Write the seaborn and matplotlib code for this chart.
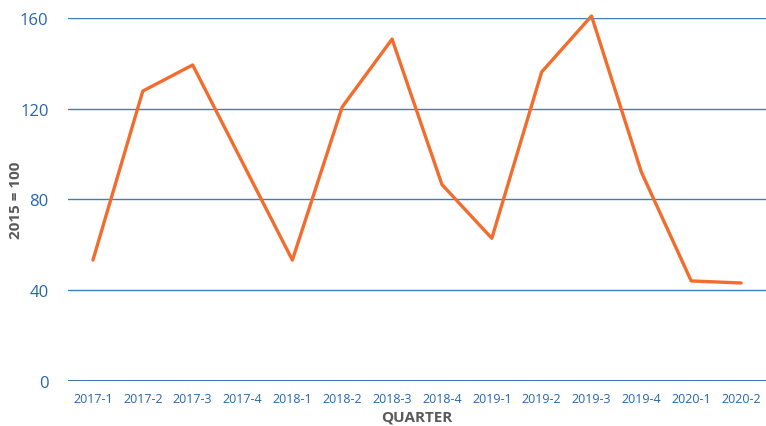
import seaborn as sns
import pandas as pd
import matplotlib.pyplot as plt

quarters = ["2017-1", "2017-2", "2017-3", "2017-4", "2018-1", "2018-2", "2018-3",
            "2018-4", "2019-1", "2019-2", "2019-3", "2019-4", "2020-1", "2020-2"]
index_values = [53.3, 127.8, 139.3, 96.3, 53.3, 120.8, 150.7,
                86.6, 62.9, 136.2, 160.9, 92.1, 44.1, 43.2]
yticks = [0, 40, 80, 120, 160]

df = pd.DataFrame({"quarter": quarters, "value": index_values})

sns.set_style("white")
plt.rcParams['font.family'] = ['Open Sans', 'DejaVu Sans']

blue = "#2466b0"
grid_blue = "#3c7dc4"
orange = "#f26d2d"
gray = "#595959"

fig = plt.figure(figsize=(7.66, 4.27), dpi=100)
ax = fig.add_axes([0.0888, 0.1054, 0.9112, 0.8501])

for y in yticks[1:]:
    ax.axhline(y, color=grid_blue, lw=1.0, zorder=1)
ax.axhline(0, color=blue, lw=1.3, zorder=1)

sns.lineplot(data=df, x="quarter", y="value", color=orange, lw=2.4,
             sort=False, ax=ax, zorder=3, clip_on=False)

ax.set_xlim(-0.5, len(quarters) - 0.5)
ax.set_ylim(0, 160)
ax.set_yticks(yticks)
ax.tick_params(axis="y", colors=blue, labelsize=12, length=0, pad=14)
ax.tick_params(axis="x", colors=blue, labelsize=9, length=0, pad=8)
for s in ax.spines.values():
    s.set_visible(False)

ax.set_xlabel("QUARTER", color=gray, fontsize=11, fontweight="bold", labelpad=3)
ax.set_ylabel("2015 = 100", color=gray, fontsize=11, fontweight="bold")
ax.yaxis.set_label_coords(-0.065, 0.5)

fig.savefig("out.png", dpi=100)
